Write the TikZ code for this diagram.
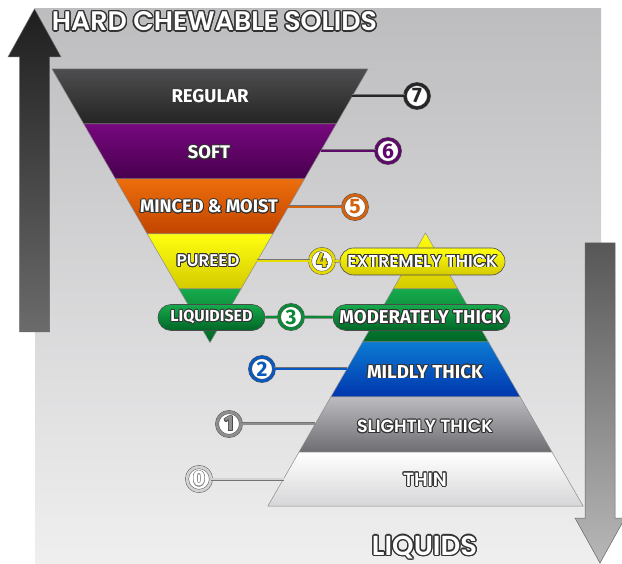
\documentclass[tikz,border=0pt]{standalone}
\usepackage{fontspec}
\setmainfont{Fira Sans}[BoldFont={Fira Sans Bold}]
\newfontfamily\rndfont{Poppins}[BoldFont={Poppins SemiBold}]
\usepackage{graphicx}
\usepackage{contour}
\contourlength{0.9pt}
\usetikzlibrary{shapes.misc}
\definecolor{bgtop}{HTML}{BDBDBF}
\definecolor{bgbot}{HTML}{EFEFF0}
\definecolor{outl}{HTML}{333333}
\definecolor{regT}{HTML}{4E4E50}\definecolor{regB}{HTML}{242424}
\definecolor{sofT}{HTML}{76087E}\definecolor{sofB}{HTML}{48004E}
\definecolor{minT}{HTML}{EC6E0C}\definecolor{minB}{HTML}{C24400}
\definecolor{purT}{HTML}{FFFF10}\definecolor{purB}{HTML}{D4CA00}
\definecolor{liqT}{HTML}{16AA4C}\definecolor{liqB}{HTML}{006626}
\definecolor{milT}{HTML}{0C7AD2}\definecolor{milB}{HTML}{0036AE}
\definecolor{sliT}{HTML}{BCBCC0}\definecolor{sliB}{HTML}{6E6E72}
\definecolor{thiT}{HTML}{FFFFFF}\definecolor{thiB}{HTML}{D6D6D8}
\definecolor{r7}{HTML}{262626}
\definecolor{r6}{HTML}{5E0A6A}
\definecolor{r5}{HTML}{D4620E}
\definecolor{r4}{HTML}{E6DC00}
\definecolor{r3}{HTML}{0A8A36}
\definecolor{r2}{HTML}{0A58C0}
\definecolor{r1}{HTML}{8E8E90}
\definecolor{r0}{HTML}{D2D2D4}
\newcommand\outtxt[3]{\resizebox{#1}{!}{\contour{#2}{#3}}}
\begin{document}
\begin{tikzpicture}[x=1pt,y=-1pt,
  band/.style={draw=black!45, line width=0.5pt},
  ring/.style={circle, minimum size=24pt, inner sep=0pt, fill=white, draw=black!65,
    double=#1, double distance=2.8pt, line width=0.5pt, font=\fontsize{21}{21}\selectfont\bfseries},
  link/.style={draw=black!55, double=#1, double distance=2.2pt, line width=0.4pt},
  pill/.style={rounded rectangle, draw=black!70, line width=0.6pt, inner sep=0pt},
  lbl/.style={text=white, font=\fontsize{18}{18}\selectfont\bfseries, inner sep=0pt},
  rlbl/.style={text=white, font=\fontsize{18}{18}\selectfont\rndfont\bfseries, inner sep=0pt},
  arrowshape/.style={draw=black!60, line width=0.5pt}
]
\useasboundingbox (0,0) rectangle (622,564);
% background panel
\fill[top color=bgtop, bottom color=bgbot] (35,9) rectangle (601,564);

% arrows
\path[arrowshape, top color=black!88, bottom color=black!58]
  (19.5,332) -- (19.5,57) -- (8,57) -- (34.5,9) -- (61,57) -- (49.5,57) -- (49.5,332) -- cycle;
\path[arrowshape, top color=black!66, bottom color=black!28]
  (585,243) -- (615,243) -- (615,518) -- (625,518) -- (600,563) -- (575,518) -- (585,518) -- cycle;

% left inverted pyramid
\path[band, top color=regT, bottom color=regB] (52,69) -- (368,69) -- (336.24,124) -- (83.76,124) -- cycle;
\path[band, top color=sofT, bottom color=sofB] (83.76,124) -- (336.24,124) -- (304.49,179) -- (115.51,179) -- cycle;
\path[band, top color=minT, bottom color=minB] (115.51,179) -- (304.49,179) -- (272.73,234) -- (147.27,234) -- cycle;
\path[band, top color=purT, bottom color=purB] (147.27,234) -- (272.73,234) -- (240.97,289) -- (179.03,289) -- cycle;
\path[band, top color=liqT, bottom color=liqB] (179.03,289) -- (240.97,289) -- (210,342.6) -- cycle;

% right pyramid
\path[band, top color=purT, bottom color=purB] (425.5,233) -- (457.83,289) -- (393.17,289) -- cycle;
\path[band, top color=liqT, bottom color=liqB] (393.17,289) -- (457.83,289) -- (488.44,342) -- (362.56,342) -- cycle;
\path[band, top color=milT, bottom color=milB] (362.56,342) -- (488.44,342) -- (520.19,397) -- (330.81,397) -- cycle;
\path[band, top color=sliT, bottom color=sliB] (330.81,397) -- (520.19,397) -- (551.95,452) -- (299.05,452) -- cycle;
\path[band, top color=thiT, bottom color=thiB] (299.05,452) -- (551.95,452) -- (583.13,506) -- (267.87,506) -- cycle;

% edge coordinates
\coordinate (e7) at (352.4,96);
\coordinate (e6) at (320.7,151);
\coordinate (e5) at (288.3,207);
\coordinate (e4) at (257.1,261);
\coordinate (e2) at (347,369);
\coordinate (e1) at (315.2,424);
\coordinate (e0) at (283.5,479);

% band labels
\node[lbl] (regular) at (210,97) {\outtxt{77pt}{outl}{REGULAR}};
\node[lbl] (soft) at (209,153) {\outtxt{42pt}{outl}{SOFT}};
\node[lbl] (minced) at (209,207) {\outtxt{138pt}{outl}{MINCED \& MOIST}};
\node[rlbl] (pureed) at (208,261) {\outtxt{63pt}{outl}{PUREED}};
\node[lbl] (mildly) at (425,372) {\outtxt{116pt}{outl}{MILDLY THICK}};
\node[rlbl] (slightly) at (425,427) {\outtxt{136pt}{outl}{SLIGHTLY THICK}};
\node[rlbl] (thin) at (425,480) {\outtxt{44pt}{outl}{THIN}};

% pills
\node[pill, minimum width=107pt, minimum height=26pt, top color=liqT, bottom color=liqB] (liq) at (211.5,317.5) {};
\node[lbl] (liqtxt) at (liq) {\outtxt{82pt}{outl}{LIQUIDISED}};
\node[pill, minimum width=177pt, minimum height=26pt, top color=liqT, bottom color=liqB] (mod) at (421.5,317.5) {};
\node[lbl] (modtxt) at (mod) {\outtxt{164pt}{outl}{MODERATELY THICK}};
\node[pill, minimum width=165pt, minimum height=27pt, top color=purT, bottom color=purB] (ext) at (422.5,261.5) {};
\node[rlbl] (exttxt) at (ext) {\outtxt{150pt}{outl}{EXTREMELY THICK}};

% number circles
\node[ring=r7, text=r7] (c7) at (417,96) {7};
\node[ring=r6, text=r6] (c6) at (388,151) {6};
\node[ring=r5, text=r5] (c5) at (355,207) {5};
\node[ring=r4] (c4) at (322,261) {\contourlength{0.6pt}\contour{black!70}{\textcolor{r4}{4}}};
\node[ring=r3, text=r3] (c3) at (291,317) {3};
\node[ring=r2, text=r2] (c2) at (262,369) {2};
\node[ring=r1] (c1) at (229,424) {\contourlength{0.6pt}\contour{black!70}{\textcolor{r1}{1}}};
\node[ring=r0] (c0) at (199,479) {\contourlength{0.6pt}\contour{black!45}{\textcolor{white}{0}}};

% connectors
\draw[link=r7] (c7) -- (e7);
\draw[link=r6] (c6) -- (e6);
\draw[link=r5] (c5) -- (e5);
\draw[link=r4] (e4) -- (c4);
\draw[link=r4] (c4) -- (ext);
\draw[link=r3] (liq) -- (c3);
\draw[link=r3] (c3) -- (mod);
\draw[link=r2] (c2) -- (e2);
\draw[link=r1] (c1) -- (e1);
\draw[link=r0] (c0) -- (e0);

% headings
\node[rlbl] (hard) at (214.5,22) {\outtxt{325pt}{outl}{HARD CHEWABLE SOLIDS}};
\node[rlbl] (liquids) at (424.5,548) {\outtxt{105pt}{outl}{LIQUIDS}};
\end{tikzpicture}
\end{document}
